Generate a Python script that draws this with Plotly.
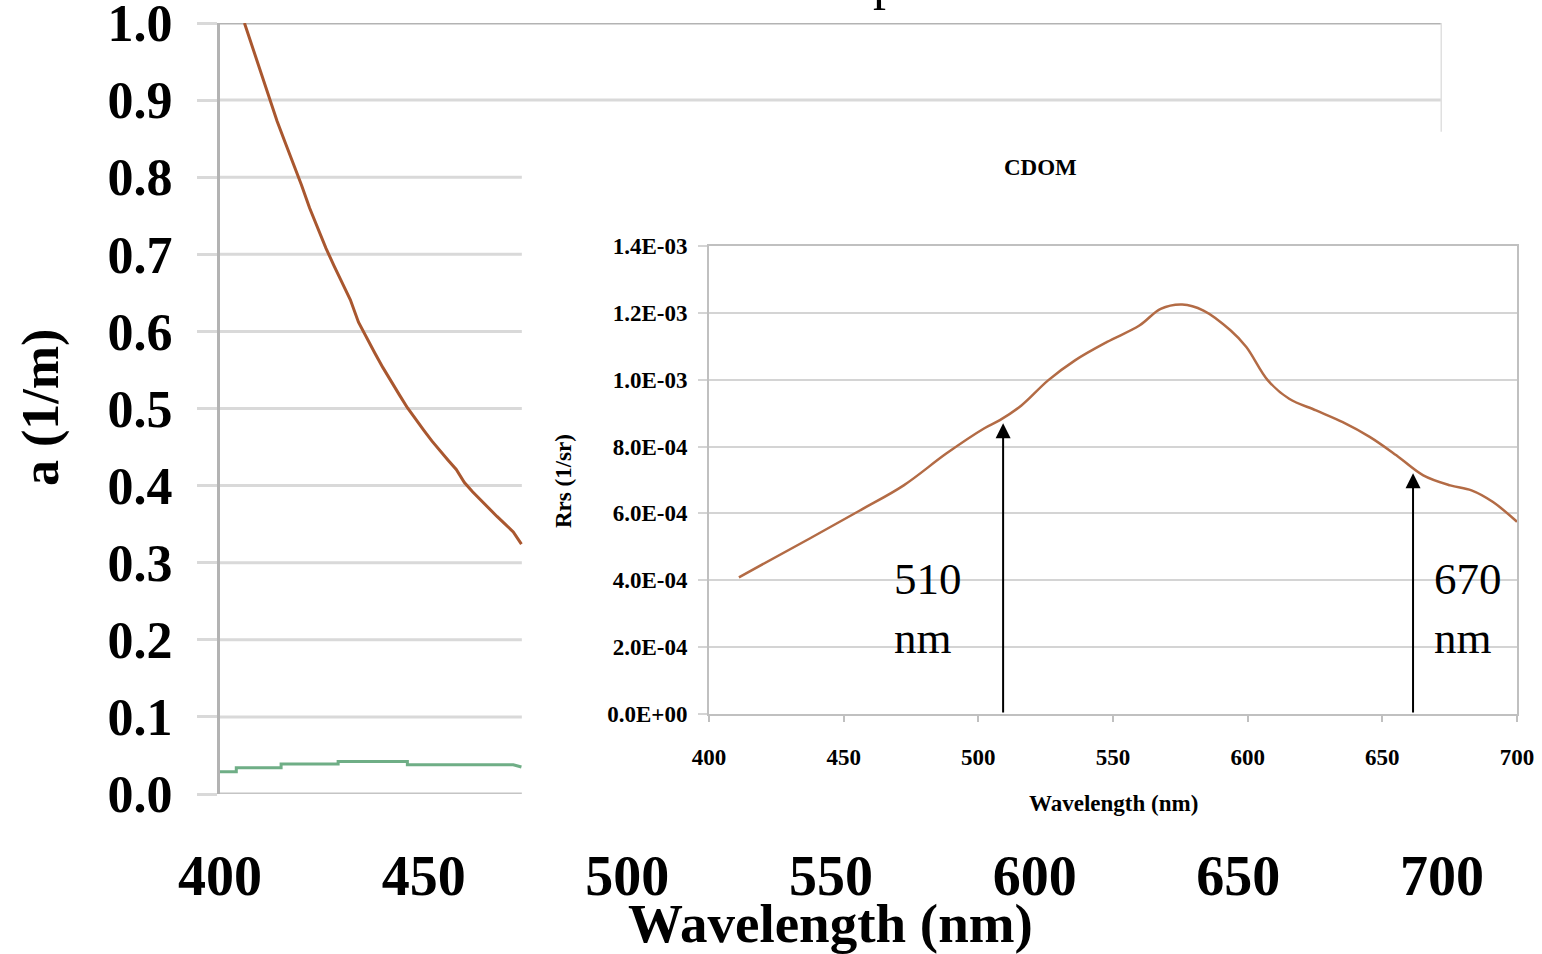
import plotly.graph_objects as go

W, H = 1542, 954

# ---------------- data: main chart (absorption) ----------------
abs_wl = [406, 408, 410, 412, 414, 416, 418, 420, 422, 424, 426, 428, 430, 432, 434,
          436, 438, 440, 442, 444, 446, 448, 450, 452, 454, 456, 458, 460, 462, 464,
          466, 468, 470, 472, 474]
abs_cdom = [1.000, 0.968, 0.935, 0.903, 0.873, 0.845, 0.818, 0.790, 0.760, 0.733, 0.708,
            0.685, 0.662, 0.641, 0.612, 0.591, 0.572, 0.553, 0.535, 0.518, 0.501, 0.486,
            0.472, 0.458, 0.445, 0.433, 0.421, 0.404, 0.392, 0.381, 0.370, 0.360, 0.350,
            0.340, 0.324]
green_wl = [400, 404, 404, 415, 415, 429, 429, 446, 446, 472, 474]
green_val = [0.029, 0.029, 0.034, 0.034, 0.039, 0.039, 0.042, 0.042, 0.038, 0.038, 0.035]
main_x_ticks = [400, 450, 500, 550, 600, 650, 700]
main_y_ticks = [0.0, 0.1, 0.2, 0.3, 0.4, 0.5, 0.6, 0.7, 0.8, 0.9, 1.0]

# ---------------- data: inset (CDOM Rrs) ----------------
rrs_wl = [411.1, 437.4, 456.3, 472.3, 488.1, 502.1, 508.0, 516.0, 525.9, 535.9, 547.8,
          559.8, 567.7, 575.7, 583.6, 593.6, 599.5, 607.5, 615.4, 625.4, 635.3, 645.3,
          655.2, 665.2, 675.2, 683.1, 691.1, 700.0]
rrs_val = [4.09e-4, 5.25e-4, 6.10e-4, 6.84e-4, 7.79e-4, 8.54e-4, 8.79e-4, 9.23e-4,
           9.98e-4, 1.058e-3, 1.113e-3, 1.162e-3, 1.212e-3, 1.225e-3, 1.207e-3, 1.148e-3,
           1.098e-3, 9.98e-4, 9.43e-4, 9.08e-4, 8.73e-4, 8.29e-4, 7.74e-4, 7.14e-4,
           6.84e-4, 6.69e-4, 6.34e-4, 5.75e-4]
inset_x_ticks = [400, 450, 500, 550, 600, 650, 700]
inset_y_ticks = [0, 2e-4, 4e-4, 6e-4, 8e-4, 1.0e-3, 1.2e-3, 1.4e-3]
inset_y_labels = ["0.0E+00", "2.0E-04", "4.0E-04", "6.0E-04", "8.0E-04",
                  "1.0E-03", "1.2E-03", "1.4E-03"]
arrow_wl = [509.2, 661.4]
arrow_tip = [8.7e-4, 7.2e-4]
arrow_text = ["510<br>nm", "670<br>nm"]

# ---------------- layout helpers (pixels -> paper) ----------------
def px(x):
    return x / W

def py(y):
    return 1 - y / H

SERIF = "Liberation Serif"
INSET_EDGE_NM = 474.1          # where the inset panel hides the main chart
RIGHT_BORDER_BOTTOM = 0.859    # main chart right border visible down to here

fig = go.Figure()

fig.add_trace(go.Scatter(x=abs_wl, y=abs_cdom, mode="lines",
                         line=dict(color="#a9572f", width=3),
                         xaxis="x", yaxis="y", showlegend=False))
fig.add_trace(go.Scatter(x=green_wl, y=green_val, mode="lines",
                         line=dict(color="#6fae86", width=3),
                         xaxis="x", yaxis="y", showlegend=False))
fig.add_trace(go.Scatter(x=rrs_wl, y=rrs_val, mode="lines", line_shape="spline",
                         line=dict(color="#b36b45", width=2.5),
                         xaxis="x2", yaxis="y2", showlegend=False))

shapes = []
light = "#d9d9d9"
dark = "#b3b3b3"
for v in main_y_ticks[1:9]:
    shapes.append(dict(type="line", xref="x", yref="y", x0=400, x1=INSET_EDGE_NM,
                       y0=v, y1=v, line=dict(color=light, width=3), layer="below"))
shapes.append(dict(type="line", xref="x", yref="y", x0=400, x1=700, y0=0.9, y1=0.9,
                   line=dict(color=light, width=3), layer="below"))
shapes.append(dict(type="line", xref="x", yref="y", x0=400, x1=700, y0=1.0, y1=1.0,
                   line=dict(color=dark, width=3), layer="below"))
shapes.append(dict(type="line", xref="x", yref="y", x0=700, x1=700, y0=1.0,
                   y1=RIGHT_BORDER_BOTTOM, line=dict(color="#e0e0e0", width=3), layer="below"))
shapes.append(dict(type="line", xref="x", yref="y", x0=400, x1=INSET_EDGE_NM, y0=0, y1=0,
                   line=dict(color="#c4c4c4", width=3), layer="below"))
for t in main_x_ticks[:2]:
    shapes.append(dict(type="line", xref="x", yref="y", ysizemode="pixel", yanchor=0,
                       x0=t, x1=t, y0=0, y1=-17, line=dict(color=light, width=3),
                       layer="below"))


def note(text, x, y, size, bold=True, angle=0, xanchor="center", align="center"):
    return dict(text=text, xref="paper", yref="paper", x=px(x), y=py(y),
                xanchor=xanchor, yanchor="middle", align=align, textangle=angle,
                showarrow=False,
                font=dict(family=SERIF, size=size, color="#000",
                          weight="bold" if bold else "normal"))


annotations = [
    note("a (1/m)", 41, 408, 52, angle=-90),
    note("Wavelength (nm)", 830, 923, 55),
    note("CDOM", 1040, 168, 23),
    note("Rrs (1/sr)", 564, 481, 23, angle=-90),
    note("Wavelength (nm)", 1113, 803, 23),
    note(arrow_text[0], 892, 608, 45, bold=False, xanchor="left", align="left"),
    note(arrow_text[1], 1432, 608, 45, bold=False, xanchor="left", align="left"),
]
# cropped title remnant at the top edge (only the descender is visible)
annotations.append(dict(text="p", xref="paper", yref="paper", x=px(886), y=py(12),
                        xanchor="center", yanchor="bottom", showarrow=False,
                        font=dict(family=SERIF, size=52, color="#000")))
for wl, tip in zip(arrow_wl, arrow_tip):
    annotations.append(dict(x=wl, y=tip, xref="x2", yref="y2", ax=wl, ay=0,
                            axref="x2", ayref="y2", showarrow=True, arrowhead=2,
                            arrowsize=1.5, arrowwidth=2, arrowcolor="#000", text=""))

fig.update_layout(
    template="none",
    width=W, height=H, autosize=False,
    margin=dict(l=0, r=0, t=0, b=0, pad=0, autoexpand=False),
    paper_bgcolor="white", plot_bgcolor="rgba(0,0,0,0)",
    showlegend=False,
    xaxis=dict(domain=[px(220), px(1442)], range=[400, 700], tickvals=main_x_ticks,
               showgrid=False, zeroline=False, showline=False, ticks="",
               automargin=False, ticklabelstandoff=44, ticklabeloverflow="allow",
               tickfont=dict(family=SERIF, size=56, color="#000", weight="bold")),
    yaxis=dict(domain=[py(794), py(23)], range=[0, 1.0], tickvals=main_y_ticks,
               tickformat=".1f", showgrid=False, zeroline=False,
               showline=True, linecolor=dark, linewidth=3, automargin=False,
               ticks="outside", ticklen=20, tickwidth=3, tickcolor=light,
               ticklabelstandoff=14, ticklabeloverflow="allow",
               tickfont=dict(family=SERIF, size=52, color="#000", weight="bold")),
    xaxis2=dict(domain=[px(709), px(1517)], range=[400, 700], tickvals=inset_x_ticks,
                anchor="y2", showgrid=False, zeroline=False, automargin=False,
                showline=True, linecolor="#c0c0c0", linewidth=2, mirror=True,
                ticks="outside", ticklen=6, tickwidth=1.5, tickcolor="#c0c0c0",
                ticklabelstandoff=15, ticklabeloverflow="allow",
                tickfont=dict(family=SERIF, size=23, color="#000", weight="bold")),
    yaxis2=dict(domain=[py(714), py(246)], range=[0, 1.4e-3], tickvals=inset_y_ticks,
                ticktext=inset_y_labels, anchor="x2", showgrid=True, automargin=False,
                gridcolor="#d4d4d4", gridwidth=2, zeroline=False,
                showline=True, linecolor="#c0c0c0", linewidth=2, mirror=True,
                ticks="outside", ticklen=9, tickwidth=2, tickcolor="#d4d4d4",
                ticklabelstandoff=6, ticklabeloverflow="allow",
                tickfont=dict(family=SERIF, size=23, color="#000", weight="bold")),
    shapes=shapes,
    annotations=annotations,
)

fig.write_html("out.html",
               config={"displayModeBar": False},
               post_script="document.body.style.margin='0';"
                           "document.body.style.overflow='hidden';")
